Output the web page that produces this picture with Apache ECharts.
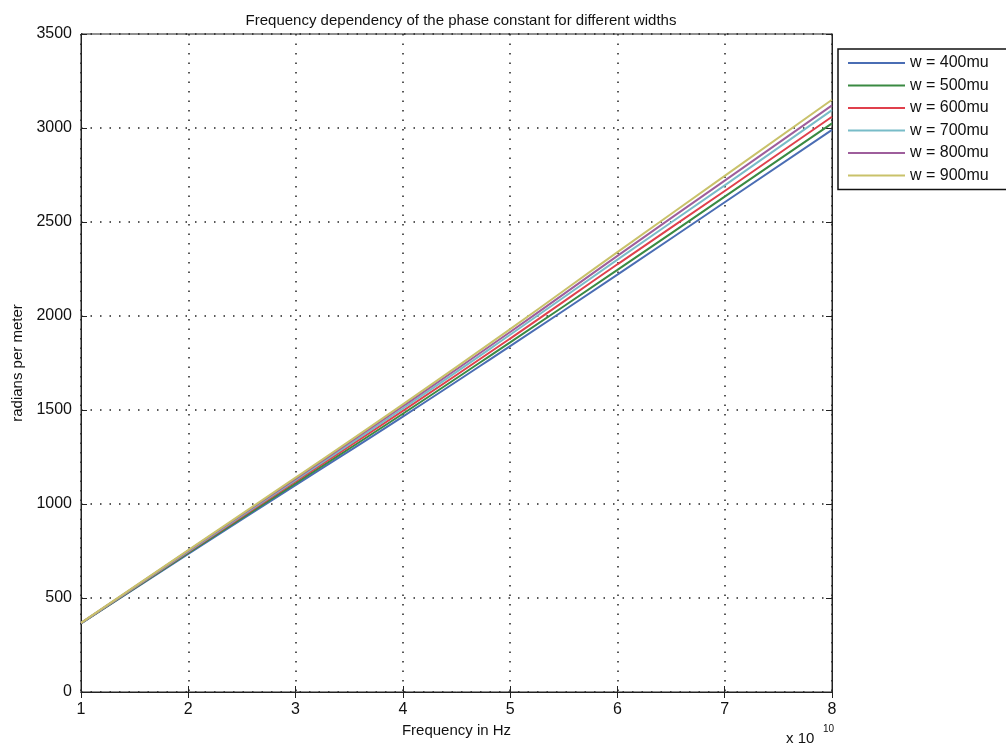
<!DOCTYPE html>
<html>
<head>
<meta charset="utf-8">
<script src="https://cdn.jsdelivr.net/npm/echarts@6/dist/echarts.min.js"></script>
<style>
  html, body { margin: 0; padding: 0; background: #fff; }
  #chart { width: 1006px; height: 753px; }
</style>
</head>
<body>
<div id="chart"></div>
<script>
// frequency in units of 1e10 Hz
var freqs = [1, 2, 3, 4, 5, 6, 7, 8];
var xTicks = [1, 2, 3, 4, 5, 6, 7, 8];
var yTicks = [0, 500, 1000, 1500, 2000, 2500, 3000, 3500];
var widthNames = ['w = 400mu', 'w = 500mu', 'w = 600mu', 'w = 700mu', 'w = 800mu', 'w = 900mu'];
var w400 = [365, 735, 1100, 1465, 1840, 2220, 2605, 2990];
var w500 = [365, 740, 1110, 1480, 1860, 2245, 2635, 3025];
var w600 = [366, 745, 1120, 1495, 1880, 2275, 2665, 3060];
var w700 = [366, 748, 1127, 1508, 1900, 2300, 2695, 3095];
var w800 = [367, 752, 1134, 1520, 1915, 2320, 2720, 3120];
var w900 = [368, 755, 1140, 1530, 1930, 2340, 2745, 3150];
var lineColors = ['#4a6db4', '#3a8a42', '#e0404c', '#78bcc8', '#9e5e9c', '#c9c26a'];

var allSeries = [w400, w500, w600, w700, w800, w900];
var font = 'Liberation Sans, Arial, Helvetica, sans-serif';

var series = [];
for (var i = 0; i < allSeries.length; i++) {
    var pts = [];
    for (var j = 0; j < freqs.length; j++) {
        pts.push([freqs[j], allSeries[i][j]]);
    }
    series.push({
        name: widthNames[i],
        type: 'line',
        data: pts,
        symbol: 'none',
        smooth: true,
        lineStyle: { width: 2, color: lineColors[i] },
        itemStyle: { color: lineColors[i] },
        z: 3
    });
}

var gridLine = { show: true, lineStyle: { color: '#222', width: 1.5, type: [1.5, 8] } };

var option = {
    animation: false,
    backgroundColor: '#fff',
    title: {
        text: 'Frequency dependency of the phase constant for different widths',
        left: 456,
        textAlign: 'center',
        top: 8,
        textStyle: { fontFamily: font, fontSize: 15, fontWeight: 'normal', color: '#111' }
    },
    legend: {
        data: widthNames,
        orient: 'vertical',
        left: 838,
        top: 49,
        icon: 'rect',
        itemWidth: 57,
        itemHeight: 2,
        itemGap: 6.5,
        padding: [6, 40, 6, 10],
        borderColor: '#111',
        borderWidth: 1.5,
        backgroundColor: '#fff',
        textStyle: { fontFamily: font, fontSize: 16, color: '#111', lineHeight: 16 }
    },
    grid: {
        left: 81, right: 174, top: 34, bottom: 61,
        show: true, borderColor: '#222', borderWidth: 1
    },
    xAxis: [{
        type: 'value',
        min: 1, max: 8, interval: 1,
        name: 'Frequency in Hz',
        nameLocation: 'middle',
        nameGap: 29,
        nameTextStyle: { fontFamily: font, fontSize: 15, color: '#111' },
        axisLine: { lineStyle: { color: '#222' } },
        axisTick: { inside: true, length: 6, lineStyle: { color: '#222' } },
        axisLabel: { fontFamily: font, fontSize: 16, color: '#111', margin: 10 },
        splitLine: gridLine
    }, {
        type: 'value',
        position: 'top',
        min: 1, max: 8, interval: 1,
        axisLine: { show: true, lineStyle: { color: '#222' } },
        axisTick: { inside: true, length: 6, lineStyle: { color: '#222' } },
        axisLabel: { show: false },
        splitLine: { show: false }
    }],
    yAxis: [{
        type: 'value',
        min: 0, max: 3500, interval: 500,
        name: 'radians per meter',
        nameLocation: 'middle',
        nameGap: 56,
        nameTextStyle: { fontFamily: font, fontSize: 15, color: '#111' },
        axisLine: { show: true, lineStyle: { color: '#222' } },
        axisTick: { show: true, inside: true, length: 6, lineStyle: { color: '#222' } },
        axisLabel: {
            fontFamily: font, fontSize: 16, color: '#111', margin: 9,
            formatter: function (v) { return String(v); }
        },
        splitLine: gridLine
    }, {
        type: 'value',
        position: 'right',
        min: 0, max: 3500, interval: 500,
        axisLine: { show: true, lineStyle: { color: '#222' } },
        axisTick: { show: true, inside: true, length: 6, lineStyle: { color: '#222' } },
        axisLabel: { show: false },
        splitLine: { show: false }
    }],
    graphic: [{
        type: 'text',
        left: 786,
        top: 731,
        style: { text: 'x 10', fontFamily: font, fontSize: 15, fill: '#111' }
    }, {
        type: 'text',
        left: 823,
        top: 724,
        style: { text: '10', fontFamily: font, fontSize: 10, fill: '#111' }
    }],
    series: series
};

var chart = echarts.init(document.getElementById('chart'));
chart.setOption(option);
</script>
</body>
</html>
